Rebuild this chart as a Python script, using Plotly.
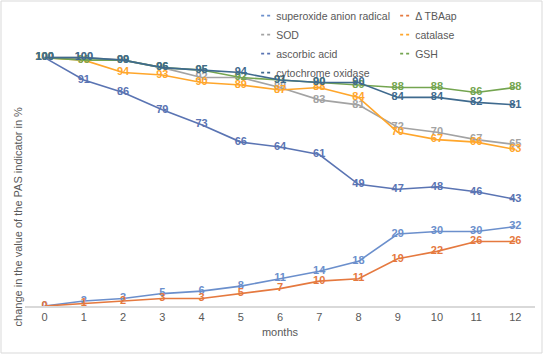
import plotly.graph_objects as go

months = list(range(13))
series_names = ["superoxide anion radical", "Δ TBAap", "SOD", "catalase",
                "ascorbic acid", "GSH", "cytochrome oxidase"]
superoxide = [0, 2, 3, 5, 6, 8, 11, 14, 18, 29, 30, 30, 32]
tbaap = [0, 1, 2, 3, 3, 5, 7, 10, 11, 19, 22, 26, 26]
sod = [100, 100, 99, 96, 92, 92, 88, 83, 81, 72, 70, 67, 65]
catalase = [100, 99, 94, 93, 90, 89, 87, 88, 84, 70, 67, 66, 63]
ascorbic = [100, 91, 86, 79, 73, 66, 64, 61, 49, 47, 48, 46, 43]
gsh = [100, 99, 99, 96, 95, 92, 91, 90, 89, 88, 88, 86, 88]
cytochrome = [100, 100, 99, 96, 95, 94, 91, 90, 90, 84, 84, 82, 81]

colors = ["#6B8FCC", "#E5793F", "#A3A3A3", "#FFA62B", "#5A74B3", "#74A550", "#3F6A8E"]
values = [superoxide, tbaap, sod, catalase, ascorbic, gsh, cytochrome]

fig = go.Figure()
FONT = "Liberation Sans, Arial, sans-serif"

for i in range(7):
    fig.add_trace(go.Scatter(
        x=months, y=values[i], mode="lines+text", name=series_names[i],
        text=[str(v) for v in values[i]], textposition="middle center",
        textfont=dict(color=colors[i], size=11, family=FONT, weight="bold"),
        line=dict(color=colors[i], width=1.6), showlegend=False,
        hoverinfo="skip"))

# legend entries (dashed swatches as in reference), two columns
for i in range(7):
    fig.add_trace(go.Scatter(
        x=[None], y=[None], mode="lines", name=series_names[i],
        legend="legend" if i % 2 == 0 else "legend2",
        line=dict(color=colors[i], width=1.6, dash="0px,20px,3px,3px,3px,40px"),
        showlegend=True))

leg_common = dict(orientation="v", yanchor="top", xanchor="left", itemwidth=30,
                  font=dict(size=10.5, color="#595959", family=FONT),
                  bgcolor="rgba(0,0,0,0)", traceorder="normal", borderwidth=0)

fig.update_layout(
    width=543, height=354,
    margin=dict(l=25, r=8, t=8, b=48, autoexpand=False),
    paper_bgcolor="white", plot_bgcolor="white",
    font=dict(family=FONT, size=11, color="#595959"),
    showlegend=True,
    legend=dict(x=0.414, y=1.023, **leg_common),
    legend2=dict(x=0.414 + 139 / 510, y=1.023, **leg_common),
    xaxis=dict(range=[-0.5, 12.5], tickmode="array", tickvals=months,
               ticktext=[str(m) for m in months], showgrid=False, zeroline=False,
               showline=True, linecolor="#D9D9D9", linewidth=1.5, ticks="",
               tickfont=dict(size=11, color="#595959"),
               title=dict(text="months", font=dict(size=11, color="#595959"), standoff=6)),
    yaxis=dict(range=[0, 120], visible=False),
    annotations=[dict(text="change in the value of the PAS indicator in %",
                      xref="paper", yref="paper", x=-0.014, y=0.30, textangle=-90,
                      showarrow=False, font=dict(size=11, color="#595959"),
                      xanchor="center", yanchor="middle")],
    shapes=[dict(type="rect", xref="paper", yref="paper",
                 x0=-24/510, x1=1 + 7/510, y0=-47/298, y1=1 + 7/298,
                 line=dict(color="#D9D9D9", width=1), fillcolor="rgba(0,0,0,0)",
                 layer="below")],
)

fig.write_html("out.html")
